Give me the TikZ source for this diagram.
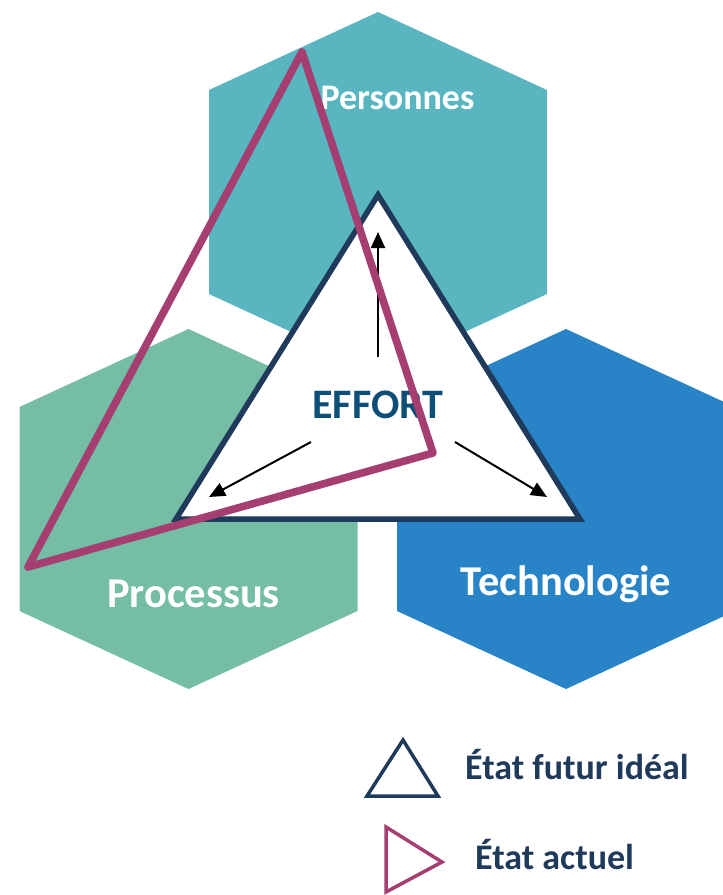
\documentclass[tikz,border=0pt]{standalone}
\usepackage{fontspec}
\setmainfont{Carlito}
\usetikzlibrary{arrows.meta}
\definecolor{persC}{HTML}{59B6C0}
\definecolor{procC}{HTML}{75BDA5}
\definecolor{techC}{HTML}{2884C7}
\definecolor{navyC}{HTML}{1F3A5A}
\definecolor{effC}{HTML}{0E4F78}
\definecolor{magC}{HTML}{A63E72}
\begin{document}
\begin{tikzpicture}[x=1pt,y=-1pt,
	lbl/.style={font=\bfseries\fontsize{42.5}{46}\selectfont,text=white,anchor=base,inner sep=0pt},
	leg/.style={font=\bfseries\fontsize{36}{40}\selectfont,text=navyC,anchor=base west,inner sep=0pt},
	arr/.style={line width=2pt,-{Triangle[length=16pt,width=14pt]}}]
			\useasboundingbox (0,0) rectangle (723,895);
			\clip (0,0) rectangle (723,895);
			\foreach \cx/\cy/\col in {378/192/persC,188.5/509/procC,566/509/techC}
				\fill[\col] ({\cx},{\cy-180}) -- ({\cx+169},{\cy-102}) -- ({\cx+169},{\cy+102})
					-- ({\cx},{\cy+180}) -- ({\cx-169},{\cy+102}) -- ({\cx-169},{\cy-102}) -- cycle;
			% ideal state
			\coordinate (A) at (378,195);
			\coordinate (B) at (176,519);
			\coordinate (C) at (580,519);
			\draw[navyC,fill=white,line width=5.5pt] (A) -- (B) -- (C) -- cycle;
			\coordinate (E1) at (378,357);
			\coordinate (T1) at (378,232);
			\coordinate (E2) at (311,442);
			\coordinate (T2) at (209,497);
			\coordinate (E3) at (455,442);
			\coordinate (T3) at (547,497);
			\draw[arr] (E1) to (T1);
			\draw[arr] (E2) to (T2);
			\draw[arr] (E3) to (T3);
			\node[lbl,text=effC,font=\bfseries\fontsize{42}{46}\selectfont] (effort) at (378,418) {EFFORT};
			\node[lbl,font=\bfseries\fontsize{36}{40}\selectfont] (pers) at (397.5,109) {Personnes};
			\node[lbl] (proc) at (193.5,607) {Processus};
			\node[lbl] (tech) at (566,595) {Technologie};
			% current state
			\coordinate (D) at (302,52);
			\coordinate (G) at (28,567);
			\coordinate (H) at (433,453);
			\draw[black,opacity=0.18,line width=7.5pt,line join=round,shift={(2,2)}] (D) -- (G) -- (H) -- cycle;
			\draw[magC,line width=7.5pt,line join=round] (D) -- (G) -- (H) -- cycle;
			% legend
			\draw[navyC,line width=3.5pt] (403,740) coordinate (L1) -- (367,796) coordinate (L2) -- (438,796) coordinate (L3) -- cycle;
			\draw[magC,line width=3.5pt] (386,827) coordinate (M1) -- (386,892) coordinate (M2) -- (442,862) coordinate (M3) -- cycle;
			\node[leg] (ideal) at (465,779) {État futur idéal};
			\node[leg] (actuel) at (475,869) {État actuel};
		\end{tikzpicture}
\end{document}
